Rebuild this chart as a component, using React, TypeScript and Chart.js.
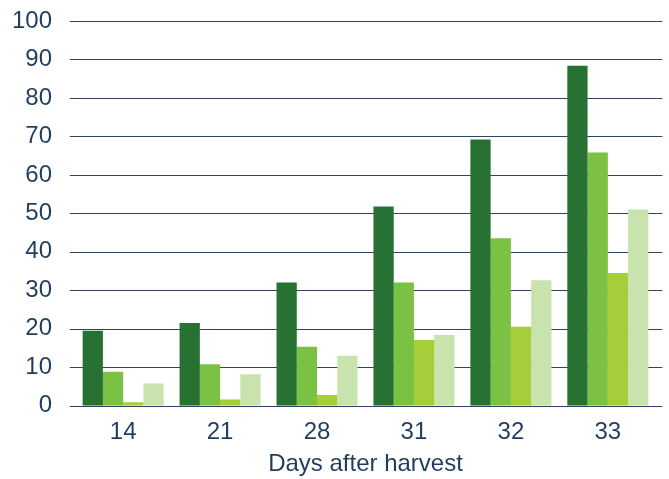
import React, { useEffect, useRef } from "react";
import { Chart, registerables } from "chart.js";

Chart.register(...registerables);

const categories = ["14", "21", "28", "31", "32", "33"];
const seriesA = [19.5, 21.5, 32.0, 51.8, 69.2, 88.4];
const seriesB = [8.8, 10.8, 15.3, 32.0, 43.5, 65.8];
const seriesC = [0.9, 1.6, 2.8, 17.1, 20.5, 34.5];
const seriesD = [5.8, 8.2, 13.0, 18.4, 32.6, 51.0];
const yTicks = [0, 10, 20, 30, 40, 50, 60, 70, 80, 90, 100];
const xTitle = "Days after harvest";

const colors = ["#277233", "#7bc143", "#a6cd3a", "#c9e3ae"];
const textColor = "#1f3d5e";
const gridColor = "#2c4663";
const fontFamily = "'Helvetica Neue', 'Liberation Sans', Arial, sans-serif";

const gridPlugin = {
  id: "customGrid",
  beforeDatasetsDraw(chart: any) {
    const { ctx, chartArea, scales } = chart;
    const y = scales.y;
    ctx.save();
    ctx.strokeStyle = gridColor;
    ctx.lineWidth = 1.2;
    for (const v of yTicks) {
      const py = Math.round(y.getPixelForValue(v)) + 0.5;
      ctx.beginPath();
      ctx.moveTo(chartArea.left - 5, py);
      ctx.lineTo(chartArea.right + 6, py);
      ctx.stroke();
    }
    ctx.restore();
  },
};

export default function App() {
  const ref = useRef<HTMLCanvasElement | null>(null);
  useEffect(() => {
    document.body.style.margin = "0";
    const ctx = ref.current!.getContext("2d")!;
    const data = [seriesA, seriesB, seriesC, seriesD];
    const chart = new Chart(ctx, {
      type: "bar",
      data: {
        labels: categories,
        datasets: data.map((d, i) => ({
          label: "S" + (i + 1),
          data: d,
          backgroundColor: colors[i],
          borderWidth: 0,
          categoryPercentage: 0.836,
          barPercentage: 1,
        })),
      },
      options: {
        animation: false,
        responsive: false,
        maintainAspectRatio: false,
        devicePixelRatio: 1,
        layout: { padding: { top: 21, right: 12.7, bottom: 0, left: 0 } },
        plugins: { legend: { display: false }, tooltip: { enabled: false } },
        scales: {
          x: {
            grid: { display: false, drawTicks: false },
            border: { display: false },
            ticks: {
              color: textColor,
              padding: 12,
              font: { family: fontFamily, size: 24 },
            },
            title: {
              display: true,
              text: xTitle,
              color: textColor,
              font: { family: fontFamily, size: 24 },
              padding: { top: 0, bottom: 0 },
            },
            afterFit: (s: any) => {
              s.height = 73.3;
              s.paddingLeft = 0;
              s.paddingRight = 0;
            },
          },
          y: {
            min: 0,
            max: 100,
            grid: { display: false, drawTicks: false },
            border: { display: false },
            ticks: {
              stepSize: 10,
              color: textColor,
              padding: 22.7,
              font: { family: fontFamily, size: 24 },
            },
            afterFit: (s: any) => {
              s.width = 74.7;
              s.paddingTop = 0;
              s.paddingBottom = 0;
            },
          },
        },
      },
      plugins: [gridPlugin],
    });
    return () => chart.destroy();
  }, []);
  return (
    <div style={{ position: "fixed", left: 0, top: 0, width: 669, height: 479, background: "#fff" }}>
      <canvas ref={ref} width={669} height={479} style={{ width: 669, height: 479 }} />
    </div>
  );
}
